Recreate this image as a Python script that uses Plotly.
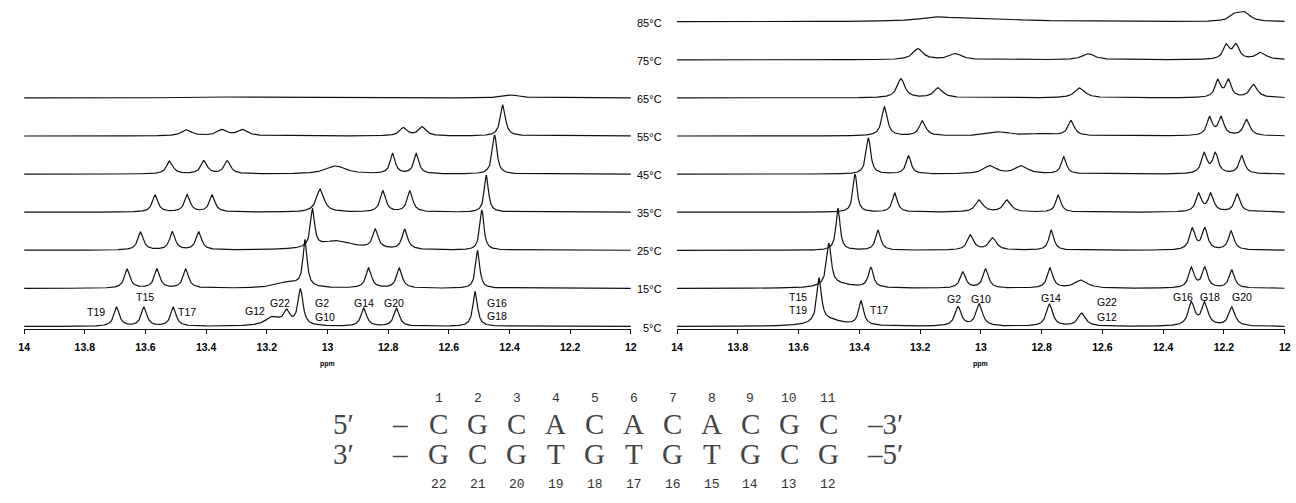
import numpy as np
import plotly.graph_objects as go

W, H = 1296, 503

# ---------------- data: peaks (ppm, height, linewidth ppm) ----------------
temps_left = [5, 15, 25, 35, 45, 55, 65]
temps_right = [5, 15, 25, 35, 45, 55, 65, 75, 85]

left_05 = [(13.695, 19, 0.022), (13.605, 19, 0.022), (13.508, 19, 0.022), (13.18, 9, 0.06),
           (13.134, 13, 0.025), (13.089, 36, 0.02), (12.88, 18, 0.022), (12.772, 18, 0.022),
           (12.513, 35, 0.018)]
left_15 = [(13.66, 19, 0.022), (13.562, 19, 0.022), (13.467, 19, 0.022), (13.074, 46, 0.016),
           (13.13, 6, 0.1), (12.864, 20, 0.022), (12.763, 20, 0.022), (12.505, 38, 0.016)]
left_25 = [(13.616, 18, 0.022), (13.511, 18, 0.022), (13.424, 18, 0.022), (13.049, 38, 0.016),
           (12.97, 9, 0.14), (12.842, 19, 0.022), (12.745, 20, 0.022), (12.491, 40, 0.016)]
left_35 = [(13.568, 17, 0.022), (13.462, 17, 0.022), (13.38, 17, 0.022), (13.024, 23, 0.03),
           (12.817, 21, 0.022), (12.728, 21, 0.022), (12.476, 37, 0.016)]
left_45 = [(13.52, 13, 0.025), (13.407, 13, 0.025), (13.33, 13, 0.025), (12.973, 8, 0.08),
           (12.785, 20, 0.02), (12.707, 20, 0.02), (12.449, 39, 0.018)]
left_55 = [(13.464, 6, 0.04), (13.348, 6, 0.04), (13.279, 6, 0.04), (12.75, 8, 0.03),
           (12.687, 9, 0.03), (12.422, 31, 0.02)]
left_65 = [(13.3, 1, 0.2), (12.393, 3, 0.06)]

right_05 = [(13.532, 44, 0.018), (13.5, 6, 0.12), (13.394, 24, 0.02), (13.075, 19, 0.025),
            (13.005, 22, 0.025), (12.774, 22, 0.025), (12.668, 13, 0.03), (12.307, 23, 0.025),
            (12.263, 23, 0.025), (12.174, 19, 0.025)]
right_15 = [(13.5, 42, 0.018), (13.47, 4, 0.12), (13.362, 20, 0.02), (13.059, 16, 0.022),
            (12.984, 19, 0.022), (12.772, 20, 0.022), (12.67, 8, 0.05), (12.307, 20, 0.022),
            (12.263, 20, 0.022), (12.174, 18, 0.022)]
right_25 = [(13.47, 42, 0.016), (13.338, 20, 0.02), (13.034, 15, 0.025), (12.961, 12, 0.03),
            (12.768, 20, 0.02), (12.304, 21, 0.022), (12.263, 21, 0.022), (12.176, 19, 0.022)]
right_35 = [(13.414, 38, 0.016), (13.283, 19, 0.02), (13.005, 12, 0.03), (12.913, 12, 0.03),
            (12.745, 17, 0.02), (12.283, 18, 0.022), (12.243, 18, 0.022), (12.156, 18, 0.022)]
right_45 = [(13.37, 36, 0.018), (13.238, 18, 0.02), (12.97, 8, 0.05), (12.866, 8, 0.05),
            (12.727, 17, 0.02), (12.265, 20, 0.022), (12.228, 20, 0.022), (12.141, 18, 0.022)]
right_55 = [(13.317, 29, 0.022), (13.192, 15, 0.025), (12.937, 4, 0.08), (12.8, 2, 0.1),
            (12.703, 15, 0.025), (12.247, 18, 0.022), (12.209, 18, 0.022), (12.125, 16, 0.025)]
right_65 = [(13.263, 19, 0.03), (13.14, 10, 0.035), (12.674, 10, 0.04), (12.22, 17, 0.022),
            (12.185, 17, 0.022), (12.102, 13, 0.03)]
right_75 = [(13.207, 11, 0.04), (13.084, 6, 0.05), (12.646, 6, 0.05), (12.192, 14, 0.025),
            (12.16, 14, 0.025), (12.078, 7, 0.04)]
right_85 = [(13.138, 4, 0.15), (12.95, 2, 0.3), (12.162, 7, 0.04), (12.13, 8, 0.04)]

left_peaks = [left_05, left_15, left_25, left_35, left_45, left_55, left_65]
right_peaks = [right_05, right_15, right_25, right_35, right_45, right_55, right_65, right_75, right_85]

tick_vals = [14, 13.8, 13.6, 13.4, 13.2, 13, 12.8, 12.6, 12.4, 12.2, 12]
tick_text = ["14", "13.8", "13.6", "13.4", "13.2", "13", "12.8", "12.6", "12.4", "12.2", "12"]

top_strand = ["C", "G", "C", "A", "C", "A", "C", "A", "C", "G", "C"]
bottom_strand = ["G", "C", "G", "T", "G", "T", "G", "T", "G", "C", "G"]
top_numbers = ["1", "2", "3", "4", "5", "6", "7", "8", "9", "10", "11"]
bottom_numbers = ["22", "21", "20", "19", "18", "17", "16", "15", "14", "13", "12"]

# peak assignment labels: (text, x px, y px, anchor)
left_labels = [("T19", 91, 312, "center"), ("T15", 140, 297, "center"), ("T17", 172, 312, "left"),
               ("G12", 251, 311, "center"), ("G22", 277, 303, "center"), ("G2", 310, 303, "left"),
               ("G10", 310, 317, "left"), ("G14", 361, 303, "center"), ("G20", 392, 303, "center"),
               ("G16", 483, 303, "left"), ("G18", 483, 316, "left")]
right_labels = [("T15", 811, 297, "right"), ("T19", 811, 310, "right"), ("T17", 870, 310, "left"),
                ("G2", 957, 299, "center"), ("G10", 984, 299, "center"), ("G14", 1055, 298, "center"),
                ("G22", 1099, 302, "left"), ("G12", 1099, 317, "left"), ("G16", 1188, 297, "center"),
                ("G18", 1215, 297, "center"), ("G20", 1248, 297, "center")]

# ---------------- build figure ----------------
grid = np.linspace(12, 14, 2001)


def spectrum(peaks):
    y = np.zeros_like(grid)
    for c, h, w in peaks:
        y += h / (1 + ((grid - c) / (w / 2)) ** 2)
    return y


AX_PX = 329          # pixel row of the x axis line
SPACING = 38.1
BASE0 = 2.5


def offset(k):
    return BASE0 + SPACING * k


def px(x):
    return x / W


def py(y):
    return 1 - y / H


fig = go.Figure()
LINE = dict(color="#111111", width=1.2)
for k, pk in enumerate(left_peaks):
    fig.add_trace(go.Scatter(x=grid, y=spectrum(pk) + offset(k), mode="lines", line=LINE,
                             xaxis="x", yaxis="y", showlegend=False, hoverinfo="skip"))
for k, pk in enumerate(right_peaks):
    fig.add_trace(go.Scatter(x=grid, y=spectrum(pk) + offset(k), mode="lines", line=LINE,
                             xaxis="x2", yaxis="y2", showlegend=False, hoverinfo="skip"))

SANS = "Liberation Sans, Arial"
TICKFONT = dict(family=SANS, size=10.5, color="#000000", weight="bold")
xcommon = dict(range=[14, 12], tickmode="array", tickvals=tick_vals, ticktext=tick_text,
               showline=True, linecolor="#111111", linewidth=1, ticks="outside", ticklen=4,
               tickwidth=1, tickcolor="#111111", showgrid=False, zeroline=False,
               tickfont=TICKFONT, ticklabelstandoff=4)
ycommon = dict(range=[0, AX_PX], domain=[py(AX_PX), 1], visible=False, showgrid=False, zeroline=False)

fig.update_layout(
    width=W, height=H, margin=dict(l=0, r=0, t=0, b=0),
    paper_bgcolor="white", plot_bgcolor="white",
    xaxis=dict(domain=[px(18.3), px(630.7)], anchor="y", **xcommon),
    yaxis=dict(anchor="x", **ycommon),
    xaxis2=dict(domain=[px(677.3), px(1290.7)], anchor="y2", **xcommon),
    yaxis2=dict(anchor="x2", **ycommon),
)

ann = []
# temperature labels
for k, t in enumerate(temps_right):
    ann.append(dict(text=f"{t}°C", x=px(664), y=py(AX_PX - offset(k) + 1), xref="paper", yref="paper",
                    xanchor="right", yanchor="middle", showarrow=False,
                    font=dict(family=SANS, size=11, color="#000000")))
# ppm titles
for cx in (324.5, 984):
    ann.append(dict(text="<b>ppm</b>", x=px(cx), y=py(364), xref="paper", yref="paper",
                    xanchor="center", yanchor="middle", showarrow=False,
                    font=dict(family=SANS, size=7, color="#000000")))
# peak labels
for txt, x, y, anc in left_labels + right_labels:
    ann.append(dict(text=txt, x=px(x), y=py(y), xref="paper", yref="paper", xanchor=anc,
                    yanchor="middle", showarrow=False,
                    font=dict(family=SANS, size=10.5, color="#000000")))

# sequence block
SEQ_X0, SEQ_DX = 437, 39.3
MONO = "Liberation Mono, Courier New, monospace"
SERIF = "Liberation Serif, Times New Roman, serif"
ROW_NUM_TOP, ROW_TOP, ROW_BOT, ROW_NUM_BOT = 398, 424, 454, 484
for i in range(len(top_strand)):
    cx = SEQ_X0 + i * SEQ_DX
    ann.append(dict(text=top_numbers[i], x=px(cx), y=py(ROW_NUM_TOP), xref="paper", yref="paper",
                    xanchor="center", yanchor="middle", showarrow=False,
                    font=dict(family=MONO, size=13, color="#333")))
    ann.append(dict(text=top_strand[i], x=px(cx), y=py(ROW_TOP), xref="paper", yref="paper",
                    xanchor="center", yanchor="middle", showarrow=False,
                    font=dict(family=SERIF, size=29, color="#444")))
    ann.append(dict(text=bottom_strand[i], x=px(cx), y=py(ROW_BOT), xref="paper", yref="paper",
                    xanchor="center", yanchor="middle", showarrow=False,
                    font=dict(family=SERIF, size=29, color="#444")))
    ann.append(dict(text=bottom_numbers[i], x=px(cx), y=py(ROW_NUM_BOT), xref="paper", yref="paper",
                    xanchor="center", yanchor="middle", showarrow=False,
                    font=dict(family=MONO, size=13, color="#333")))
for txt, cx, cy in [("5′", 341, ROW_TOP), ("–", 398, ROW_TOP), ("–3′", 887, ROW_TOP),
                    ("3′", 341, ROW_BOT), ("–", 398, ROW_BOT), ("–5′", 887, ROW_BOT)]:
    ann.append(dict(text=txt, x=px(cx), y=py(cy), xref="paper", yref="paper",
                    xanchor="center", yanchor="middle", showarrow=False,
                    font=dict(family=SERIF, size=29, color="#444")))

fig.update_layout(annotations=ann)
fig.write_html("out.html")
